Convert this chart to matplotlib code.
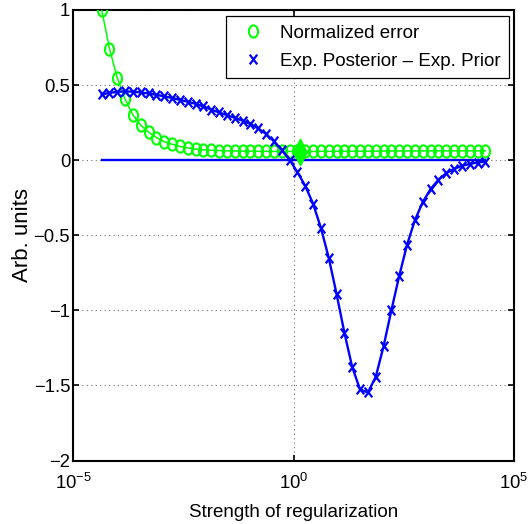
import numpy as np
import matplotlib
matplotlib.use("Agg")
import matplotlib.pyplot as plt
from matplotlib.path import Path
from matplotlib.ticker import FixedLocator, FixedFormatter, NullLocator

plt.rcParams['font.family'] = ['Liberation Sans', 'DejaVu Sans']
plt.rcParams['mathtext.fontset'] = 'custom'
plt.rcParams['mathtext.rm'] = 'Liberation Sans'
plt.rcParams['mathtext.default'] = 'regular'

# strength of regularization, 50 log-spaced values
strength = np.logspace(-4.35, 4.35, 50)

norm_error = [1.000, 0.742, 0.547, 0.405, 0.300, 0.232, 0.186, 0.150, 0.123, 0.106,
              0.092, 0.082, 0.074, 0.069, 0.066, 0.064, 0.062, 0.061, 0.060, 0.060,
              0.059, 0.059, 0.058, 0.058, 0.058, 0.058, 0.058, 0.058, 0.059, 0.059,
              0.059, 0.059, 0.060, 0.060, 0.060, 0.060, 0.061, 0.061, 0.061, 0.061,
              0.061, 0.062, 0.062, 0.062, 0.062, 0.062, 0.062, 0.062, 0.062, 0.062]

post_minus_prior = [0.438, 0.448, 0.455, 0.458, 0.456, 0.451, 0.444, 0.435, 0.425, 0.414,
                    0.402, 0.389, 0.375, 0.358, 0.336, 0.318, 0.300, 0.282, 0.263, 0.241,
                    0.211, 0.174, 0.125, 0.067, 0.002, -0.080, -0.171, -0.290, -0.451, -0.650,
                    -0.891, -1.149, -1.378, -1.527, -1.547, -1.444, -1.240, -1.000, -0.771, -0.564,
                    -0.400, -0.280, -0.193, -0.131, -0.087, -0.058, -0.038, -0.025, -0.016, -0.009]

zero_level = 0.0
opt_strength = 1.42
opt_error = 0.055

x_ticks = [1e-5, 1e0, 1e5]
x_tick_labels = ['$10^{-5}$', '$10^{0}$', '$10^{5}$']
y_ticks = [-2, -1.5, -1, -0.5, 0, 0.5, 1]
y_tick_labels = ['\u22122', '\u22121.5', '\u22121', '\u22120.5', '0', '0.5', '1']

green = '#00ff00'
blue = '#0000ff'

# markers stretched a bit vertically like in the original picture
t = np.linspace(0, 2 * np.pi, 60)
ellipse = Path(np.column_stack([0.74 * np.cos(t), np.sin(t)]), closed=True)
cross = Path([(-0.77, -1), (0.77, 1), (-0.77, 1), (0.77, -1)],
             [Path.MOVETO, Path.LINETO, Path.MOVETO, Path.LINETO])
diamond = Path([(0, 1), (0.52, 0), (0, -1), (-0.52, 0), (0, 1)], closed=True)

fig = plt.figure(figsize=(5.28, 5.24), dpi=100)
ax = fig.add_axes([73 / 528, 63.5 / 524, 441 / 528, 450.5 / 524])

ax.plot([strength[0], strength[-1]], [zero_level, zero_level], color=blue, lw=1.7, zorder=2)
ax.plot(strength, norm_error, '-', color=green, lw=1.1, zorder=3)
ax.plot(strength, norm_error, linestyle='none', marker=ellipse, ms=8.8,
        mfc='none', mec=green, mew=1.5, zorder=3, label='Normalized error')
ax.plot([opt_strength], [opt_error], linestyle='none', marker=diamond, ms=19,
        mfc=green, mec=green, zorder=4)
ax.plot(strength, post_minus_prior, '-', color=blue, lw=1.7, zorder=5)
ax.plot(strength, post_minus_prior, linestyle='none', marker=cross, ms=7,
        mec=blue, mew=1.6, zorder=5, label='Exp. Posterior \u2013 Exp. Prior')

ax.set_xscale('log')
ax.set_xlim(1e-5, 1e5)
ax.set_ylim(-2, 1)
ax.xaxis.set_major_locator(FixedLocator(x_ticks))
ax.xaxis.set_major_formatter(FixedFormatter(x_tick_labels))
ax.xaxis.set_minor_locator(NullLocator())
ax.yaxis.set_major_locator(FixedLocator(y_ticks))
ax.yaxis.set_major_formatter(FixedFormatter(y_tick_labels))

ax.grid(True, linestyle=(0, (1, 3)), color='0.45', linewidth=0.8)
ax.set_axisbelow(True)
ax.tick_params(direction='in', top=True, right=True, length=4, width=1.2,
               labelsize=13.3, colors='black')
ax.tick_params(axis='x', pad=9)
ax.tick_params(axis='y', pad=2)
for s in ax.spines.values():
    s.set_linewidth(1.5)

ax.set_xlabel('Strength of regularization', fontsize=13.5)
ax.set_ylabel('Arb. units', fontsize=16)
ax.xaxis.set_label_coords(0.5, -0.097)
ax.yaxis.set_label_coords(-0.09, 0.5)

leg = ax.legend(loc='upper right', bbox_to_anchor=(0.9887, 0.9867), borderaxespad=0,
                fontsize=13.5, fancybox=False, edgecolor='black',
                framealpha=1, handlelength=2.0, handletextpad=0.45, borderpad=0.45,
                labelspacing=0.6, numpoints=1)
leg.get_frame().set_linewidth(0.9)

fig.savefig('out.png', dpi=100)
